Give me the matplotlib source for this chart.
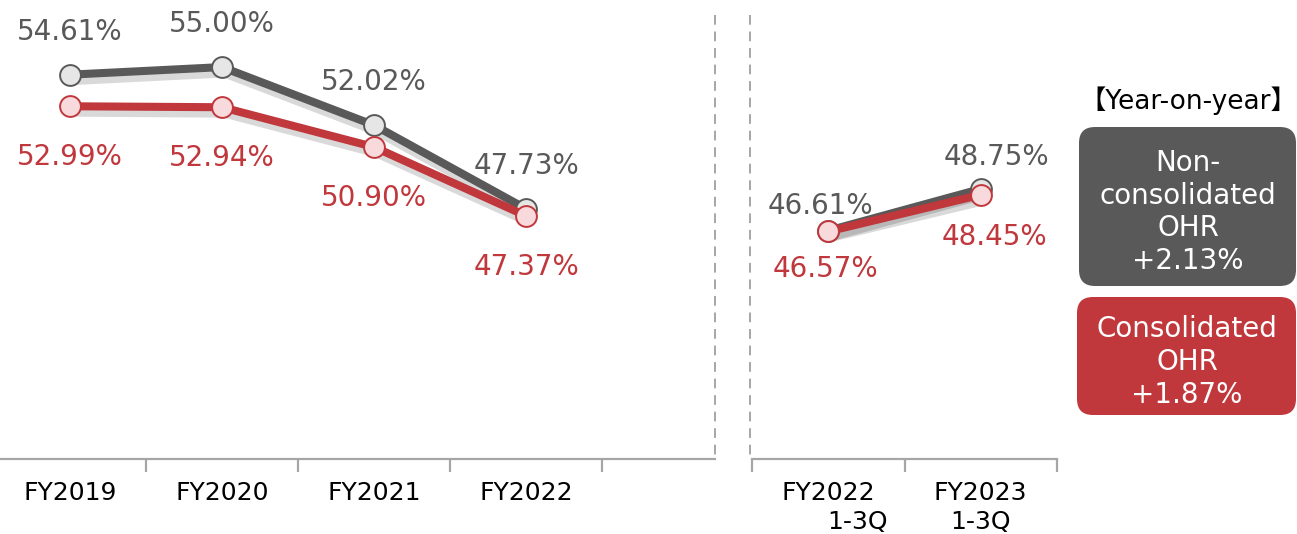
import matplotlib
matplotlib.use("Agg")
import matplotlib.pyplot as plt
import matplotlib.patheffects as pe
from matplotlib.patches import FancyBboxPatch
from matplotlib.lines import Line2D

plt.rcParams['font.family'] = ['DejaVu Sans', 'Noto Sans CJK JP']

# annual figures
years = ["FY2019", "FY2020", "FY2021", "FY2022"]
non_cons = [54.61, 55.00, 52.02, 47.73]
cons = [52.99, 52.94, 50.90, 47.37]

# 1-3Q figures
quarters = ["FY2022", "FY2023"]
q_non_cons = [46.61, 48.75]
q_cons = [46.57, 48.45]

yoy_non_cons = "+2.13%"
yoy_cons = "+1.87%"

GRAY = "#595959"
RED = "#c0373c"
AXC = "#a6a6a6"

W, H = 1297, 534
fig = plt.figure(figsize=(W / 100, H / 100), dpi=100)

ybot, ytop = 34.9, 58.44
ax_y0 = (H - 459) / H

axL = fig.add_axes([0, ax_y0, 715 / W, 1 - ax_y0])
axR = fig.add_axes([752 / W, ax_y0, (1057 - 752) / W, 1 - ax_y0])

shadow = [pe.SimpleLineShadow(offset=(2, -3), alpha=0.15, shadow_color="black",
                              linewidth=9), pe.Normal()]


def draw_series(ax, vals, col, face, z):
    xs = range(len(vals))
    ax.plot(xs, vals, color=col, lw=5.8, zorder=z, path_effects=shadow,
            solid_capstyle="round")
    ax.plot(xs, vals, ls="none", marker="o", ms=15, mfc=face, mec=col,
            mew=1.4, zorder=z + 0.5)


def label(ax, x, v, txt, col, dx, dy):
    ax.annotate(txt, (x, v), xytext=(dx, dy), textcoords="offset pixels",
                ha="center", va="center", color=col, fontsize=20)


for ax in (axL, axR):
    ax.set_ylim(ybot, ytop)
    for s in ("top", "left", "right"):
        ax.spines[s].set_visible(False)
    ax.spines["bottom"].set_color(AXC)
    ax.spines["bottom"].set_linewidth(1.6)
    ax.set_yticks([])
    ax.patch.set_alpha(0)
    ax.tick_params(axis="x", which="major", length=0, pad=16, labelsize=18)
    ax.tick_params(axis="x", which="minor", length=9, width=1.6, color=AXC)

# left panel
axL.set_xlim(-0.46, 4.243)
draw_series(axL, non_cons, GRAY, "#e6e6e6", 3)
draw_series(axL, cons, RED, "#f8d9dc", 4)
axL.set_xticks(range(len(years)))
axL.set_xticklabels(years)
axL.set_xticks([i + 0.5 for i in range(len(years))], minor=True)
for i, v in enumerate(non_cons):
    label(axL, i, v, f"{v:.2f}%", GRAY, 0, 43)
for i, v in enumerate(cons):
    label(axL, i, v, f"{v:.2f}%", RED, 0, -51)

# right panel
axR.set_xlim(-0.5, 1.5)
draw_series(axR, q_non_cons, GRAY, "#e6e6e6", 3)
draw_series(axR, q_cons, RED, "#f8d9dc", 4)
axR.set_xticks(range(len(quarters)))
axR.set_xticklabels(quarters)
axR.set_xticks([-0.5, 0.5, 1.5], minor=True)
axR.annotate("1-3Q", (0, 0), xycoords=axR.get_xaxis_transform(),
             xytext=(29, -63), textcoords="offset pixels", ha="center",
             va="center", fontsize=18)
axR.annotate("1-3Q", (1, 0), xycoords=axR.get_xaxis_transform(),
             xytext=(0, -63), textcoords="offset pixels", ha="center",
             va="center", fontsize=18)
label(axR, 0, q_non_cons[0], f"{q_non_cons[0]:.2f}%", GRAY, -8, 25)
label(axR, 0, q_cons[0], f"{q_cons[0]:.2f}%", RED, -3, -38)
label(axR, 1, q_non_cons[1], f"{q_non_cons[1]:.2f}%", GRAY, 16, 32)
label(axR, 1, q_cons[1], f"{q_cons[1]:.2f}%", RED, 14, -42)

# dashed separators
for xp in (715, 750):
    fig.add_artist(Line2D([xp / W, xp / W], [(H - 15) / H, (H - 457) / H],
                          transform=fig.transFigure, color=AXC, lw=1.4,
                          ls=(0, (5, 3.5))))

# year-on-year boxes
axB = fig.add_axes([1070 / W, 0, 227 / W, 1])
axB.set_xlim(1070, 1297)
axB.set_ylim(534, 0)
axB.axis("off")
axB.text(1188, 101, "【Year-on-year】", ha="center", va="center", fontsize=19)
axB.add_patch(FancyBboxPatch((1079, 127), 217, 159,
                             boxstyle="round,pad=0,rounding_size=16",
                             fc=GRAY, ec="none"))
axB.add_patch(FancyBboxPatch((1077, 297), 219, 118,
                             boxstyle="round,pad=0,rounding_size=16",
                             fc=RED, ec="none"))
axB.text(1188, 212, "Non-\nconsolidated\nOHR\n" + yoy_non_cons, ha="center",
         va="center", color="white", fontsize=20, linespacing=1.22)
axB.text(1187, 362, "Consolidated\nOHR\n" + yoy_cons, ha="center",
         va="center", color="white", fontsize=20, linespacing=1.22)

fig.savefig("out.png", dpi=100)
